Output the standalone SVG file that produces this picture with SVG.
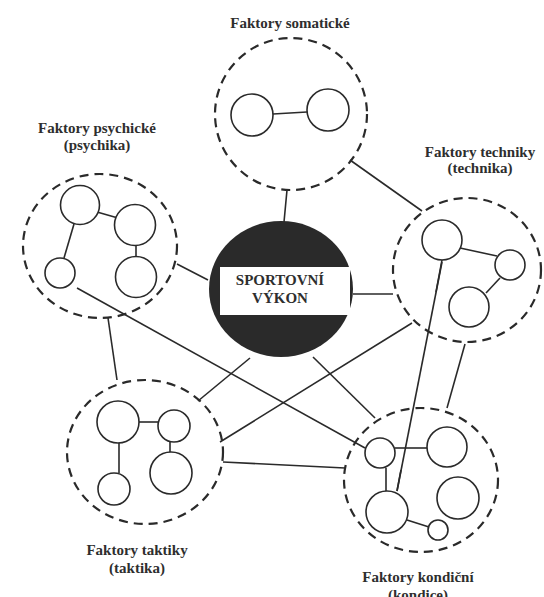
<svg xmlns="http://www.w3.org/2000/svg" width="544" height="597" viewBox="0 0 544 597">
<style>
.grp{fill:none;stroke:#2a2a2a;stroke-width:2.2;stroke-dasharray:9 6}
.sub{fill:#fff;stroke:#2a2a2a;stroke-width:1.6}
.ln{stroke:#2a2a2a;stroke-width:1.6;fill:none}
.t{font-family:"Liberation Serif","Times New Roman",serif;font-weight:bold;font-size:15px;fill:#2e2e2e;text-anchor:middle}
</style>
<rect width="544" height="597" fill="#fff"/>
<g id="connectors" class="ln">
<line x1="287" y1="190" x2="284" y2="222"/>
<line x1="350" y1="160" x2="422" y2="211"/>
<line x1="177" y1="264" x2="208" y2="280"/>
<line x1="353" y1="294" x2="393" y2="294"/>
<line x1="108" y1="318" x2="117" y2="380"/>
<line x1="77" y1="288" x2="365" y2="448"/>
<line x1="442" y1="262" x2="397" y2="491"/>
<line x1="412" y1="323" x2="220" y2="442"/>
<line x1="465" y1="344" x2="447" y2="408"/>
<line x1="250" y1="358" x2="198" y2="401"/>
<line x1="313" y1="357" x2="375" y2="418"/>
<line x1="223" y1="462" x2="345" y2="468"/>
</g>
<g id="somaticke">
<ellipse class="grp" cx="291" cy="114" rx="76" ry="76"/>
<line class="ln" x1="273" y1="114" x2="307" y2="112"/>
<circle class="sub" cx="252" cy="115" r="21"/>
<circle class="sub" cx="328" cy="110" r="21"/>
<text class="t" x="290" y="28">Faktory somatické</text>
</g>
<g id="psychika">
<ellipse class="grp" cx="100" cy="246" rx="77" ry="72"/>
<line class="ln" x1="97" y1="212" x2="118" y2="218"/>
<line class="ln" x1="136" y1="245" x2="136" y2="257"/>
<line class="ln" x1="74" y1="224" x2="64" y2="258"/>
<circle class="sub" cx="80" cy="205" r="19.5"/>
<circle class="sub" cx="135" cy="225" r="20.5"/>
<circle class="sub" cx="136" cy="277" r="20.5"/>
<circle class="sub" cx="60" cy="273" r="15"/>
<text class="t" x="97" y="133">Faktory psychické</text>
<text class="t" x="97" y="150">(psychika)</text>
</g>
<g id="technika">
<ellipse class="grp" cx="467" cy="270" rx="74" ry="72"/>
<line class="ln" x1="460" y1="248" x2="497" y2="256"/>
<line class="ln" x1="500" y1="278" x2="486" y2="293"/>
<circle class="sub" cx="442" cy="240" r="20"/>
<circle class="sub" cx="510" cy="265" r="15"/>
<circle class="sub" cx="469" cy="307" r="20"/>
<line class="ln" x1="442" y1="260" x2="436" y2="292"/>
<text class="t" x="480" y="157">Faktory techniky</text>
<text class="t" x="480" y="173">(technika)</text>
</g>
<g id="taktika">
<ellipse class="grp" cx="145" cy="452" rx="78" ry="72"/>
<line class="ln" x1="139" y1="422" x2="158" y2="422"/>
<line class="ln" x1="170" y1="442" x2="170" y2="452"/>
<line class="ln" x1="119" y1="443" x2="119" y2="473"/>
<circle class="sub" cx="118" cy="422" r="21"/>
<circle class="sub" cx="174" cy="426" r="16"/>
<circle class="sub" cx="171" cy="473" r="21"/>
<circle class="sub" cx="114" cy="489" r="16"/>
<text class="t" x="137" y="555">Faktory taktiky</text>
<text class="t" x="137" y="573">(taktika)</text>
</g>
<g id="kondice">
<ellipse class="grp" cx="421" cy="480" rx="77" ry="72"/>
<line class="ln" x1="395" y1="448" x2="427" y2="448"/>
<line class="ln" x1="386" y1="468" x2="386" y2="491"/>
<line class="ln" x1="407" y1="520" x2="429" y2="527"/>
<circle class="sub" cx="380" cy="453" r="15"/>
<circle class="sub" cx="447" cy="447" r="20"/>
<circle class="sub" cx="458" cy="498" r="21"/>
<circle class="sub" cx="387" cy="512" r="21"/>
<circle class="sub" cx="438" cy="530" r="10"/>
<line class="ln" x1="401" y1="470" x2="397" y2="491"/>
<text class="t" x="418" y="582">Faktory kondiční</text>
<text class="t" x="418" y="600">(kondice)</text>
</g>
<g id="vykon">
<ellipse cx="281" cy="289" rx="72" ry="68" fill="#2a2a2a"/>
<rect x="220" y="267" width="130" height="48" fill="#fff"/>
<text class="t" x="280" y="285">SPORTOVNÍ</text>
<text class="t" x="280" y="303">VÝKON</text>
</g>
</svg>
